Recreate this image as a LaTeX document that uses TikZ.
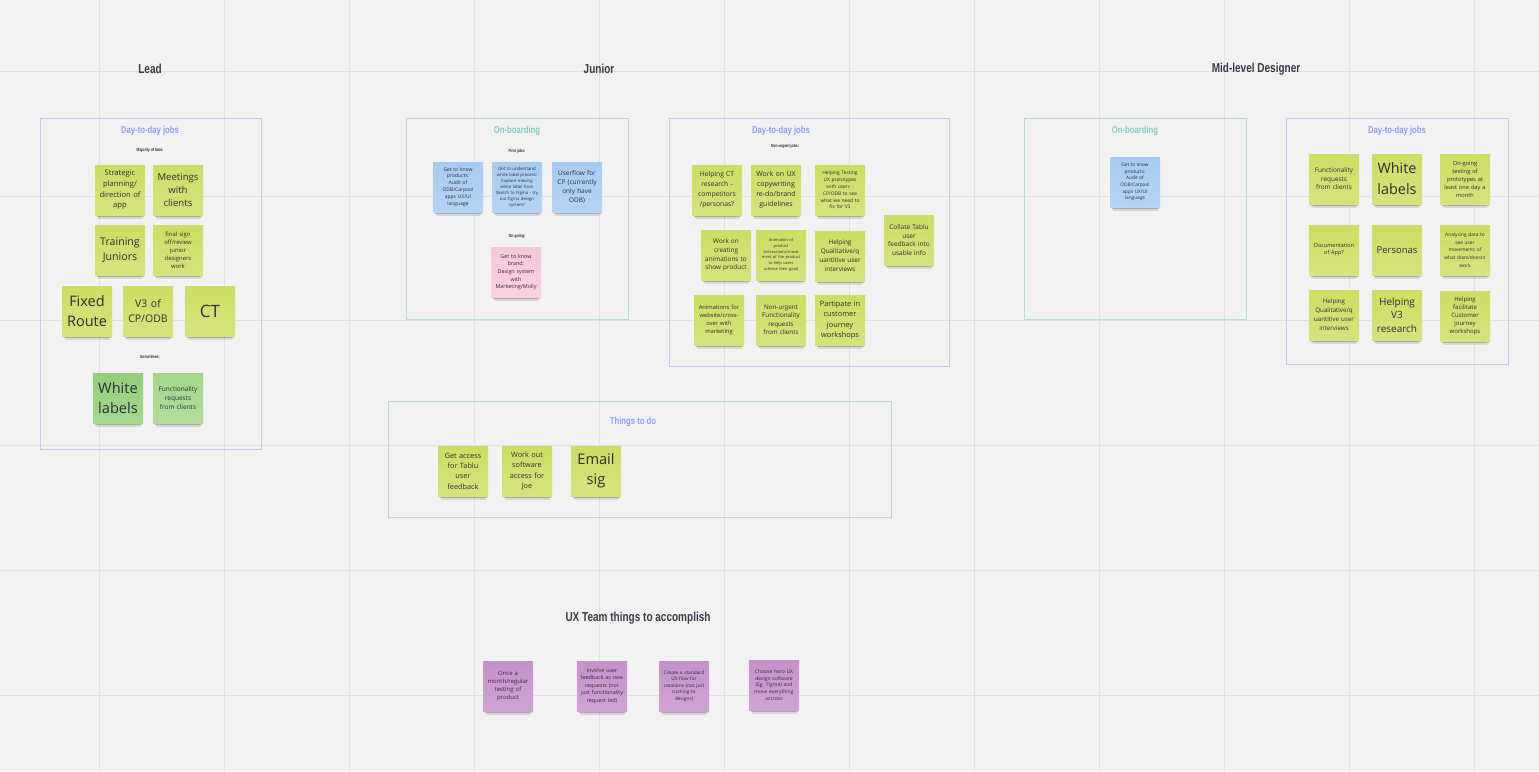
\documentclass[tikz,border=0pt]{standalone}
\usepackage{fontspec}
\setmainfont{Open Sans}
\newfontfamily\headfont[FakeStretch=0.77]{Liberation Sans}
\usetikzlibrary{shadows.blur}
\definecolor{bg}{HTML}{F2F2F2}
\definecolor{gridc}{HTML}{E1E1E1}
\definecolor{lav}{HTML}{C4CAF5}
\definecolor{lavt}{HTML}{8F9FF2}
\definecolor{tealf}{HTML}{B3DCD7}
\definecolor{tealt}{HTML}{80CEC1}
\definecolor{ylw}{HTML}{CDDD62}
\definecolor{grn}{HTML}{92CE78}
\definecolor{grnl}{HTML}{A2D688}
\definecolor{blu}{HTML}{A6CBF2}
\definecolor{pnk}{HTML}{F9C6DB}
\definecolor{prp}{HTML}{C590CB}
\definecolor{ink}{HTML}{2E2E38}
\definecolor{headc}{HTML}{3A3A48}
\newcommand\fs[2]{\fontsize{#1}{#2}\selectfont}
\tikzset{
 note/.style={top color=#1, bottom color=#1!82!white, minimum width=50pt, minimum height=50pt, text width=47pt,
   inner sep=0pt, align=center, text=ink,
   blur shadow={shadow xshift=0.5pt, shadow yshift=-6pt, shadow scale=0.86,
     shadow opacity=50, shadow blur radius=1.8pt, shadow blur steps=6}},
 frame/.style={draw=#1, line width=1pt},
 ftitle/.style={text=#1, font=\headfont\bfseries\fs{10}{10}},
 head/.style={text=headc, font=\headfont\bfseries\fs{13}{13}},
 tinylbl/.style={text=ink, font=\headfont\bfseries\fs{4.5}{4.5}},
}
\begin{document}
\begin{tikzpicture}[x=1pt,y=-1pt]
\fill[bg] (0,0) rectangle (1539,771);
\useasboundingbox (0,0) rectangle (1539,771);
% grid
\foreach \gx in {99,224,349,474,599,724,849,974,1099,1224,1349,1474}
  \draw[gridc, line width=1pt] (\gx,0) -- (\gx,771);
\foreach \gy in {71,196,320,445,570,695}
  \draw[gridc, line width=1pt] (0,\gy) -- (1539,\gy);

% headers
\node[head] (hLead) at (150,69) {Lead};
\node[head] (hJun) at (599,69) {Junior};
\node[head] (hMid) at (1256,69) {Mid-level Designer};
\node[head] (hUX) at (638,618) {UX Team things to accomplish};

% frames
\draw[frame=lav] (40,118) rectangle (261,449);
\node[ftitle=lavt] (tL) at (150,131) {Day-to-day jobs};
\draw[frame=tealf] (406,118) rectangle (628,319);
\node[ftitle=tealt] (tJO) at (517,131) {On-boarding};
\draw[frame=lav] (669,118) rectangle (949,366);
\node[ftitle=lavt] (tJD) at (781,131) {Day-to-day jobs};
\draw[frame=tealf] (388,401) rectangle (891,517);
\node[ftitle=lavt] (tT) at (633,422) {Things to do};
\draw[frame=tealf] (1024,118) rectangle (1246,319);
\node[ftitle=tealt] (tMO) at (1135,131) {On-boarding};
\draw[frame=lav] (1286,118) rectangle (1508,364);
\node[ftitle=lavt] (tMD) at (1397,131) {Day-to-day jobs};

% Lead
\node[tinylbl] (lm) at (150,150) {Majority of time:};
\node[note=ylw, font=\fs{7.6}{10.7}] (l1) at (120,190) {Strategic\\planning/\\direction of\\app};
\node[note=ylw, font=\fs{9.6}{13}] (l2) at (178,190) {Meetings\\with\\clients};
\node[note=ylw, font=\fs{10.6}{14.5}] (l3) at (120,250) {Training\\Juniors};
\node[note=ylw, font=\fs{5.9}{8}] (l4) at (178,250) {final sign\\off/review\\junior\\designers\\work};
\node[note=ylw, font=\fs{14.5}{20}] (l5) at (87,311) {Fixed\\Route};
\node[note=ylw, font=\fs{10.5}{14.3}] (l6) at (148,311) {V3 of\\CP/ODB};
\node[note=ylw, font=\fs{17}{20}] (l7) at (210,311) {CT};
\node[tinylbl] (ls) at (150,357) {Sometimes:};
\node[note=grn, font=\fs{14.6}{20.5}] (l8) at (118,398) {White\\labels};
\node[note=grnl, font=\fs{6.5}{9}] (l9) at (178,398) {Functionality\\requests\\from clients};

% Junior on-boarding
\node[tinylbl] (jf) at (517,151) {First jobs:};
\node[note=blu, font=\fs{5}{6.9}] (j1) at (458,187) {Get to know\\products:\\Audit of\\ODB/Carpool\\apps UX/UI\\language};
\node[note=blu, font=\fs{4.3}{6}] (j2) at (517,187) {Get to understand\\white label process:\\Explore moving\\white label from\\Sketch to Figma - try\\out figma design\\system?};
\node[note=blu, font=\fs{6.5}{9}] (j3) at (577,187) {Userflow for\\CP (currently\\only have\\ODB)};
\node[tinylbl] (jo) at (517,236) {On-going:};
\node[note=pnk, font=\fs{5.4}{7.6}] (j4) at (516,272) {Get to know\\brand:\\Design system\\with\\Marketing/Molly};

% Junior day-to-day
\node[tinylbl] (jn) at (785,146) {Non-urgent jobs:};
\node[note=ylw, font=\fs{6.7}{10}] (d1) at (717,190) {Helping CT\\research -\\competitors\\/personas?};
\node[note=ylw, font=\fs{7}{10}] (d2) at (776,190) {Work on UX\\copywriting\\re-do/brand\\guidelines};
\node[note=ylw, font=\fs{4.9}{6.8}] (d3) at (840,190) {Helping Testing\\UX prototypes\\with users -\\CP/ODB to see\\what we need to\\fix for V3};
\node[note=ylw, font=\fs{6.5}{8.7}] (d4) at (909,240) {Collate Tablu\\user\\feedback into\\usable info};
\node[note=ylw, font=\fs{6.4}{8.7}] (d5) at (726,255) {Work on\\creating\\animations to\\show product};
\node[note=ylw, font=\fs{4}{5.8}] (d6) at (781,255) {Animation of\\product\\(interactions/move\\ment of the product\\to help users\\achieve their goal)};
\node[note=ylw, font=\fs{6.4}{9}] (d7) at (840,256) {Helping\\Qualitative/q\\uantitive user\\interviews};
\node[note=ylw, font=\fs{5.8}{8}] (d8) at (719,320) {Animations for\\website/cross-\\over with\\marketing};
\node[note=ylw, font=\fs{6.3}{8.5}] (d9) at (781,320) {Non-urgent\\Functionality\\requests\\from clients};
\node[note=ylw, font=\fs{7.4}{10.5}] (d10) at (840,320) {Partipate in\\customer\\journey\\workshops};

% Things to do
\node[note=ylw, font=\fs{7.3}{10.3}] (t1) at (463,471) {Get access\\for Tablu\\user\\feedback};
\node[note=ylw, font=\fs{7.3}{10.3}] (t2) at (527,471) {Work out\\software\\access for\\Joe};
\node[note=ylw, font=\fs{14.6}{20}] (t3) at (596,471) {Email\\sig};

% Mid-level on-boarding
\node[note=blu, font=\fs{4.7}{6.7}] (m1) at (1135,182) {Get to know\\products:\\Audit of\\ODB/Carpool\\apps UX/UI\\language};

% Mid-level day-to-day
\node[note=ylw, font=\fs{6.4}{8.5}] (n1) at (1334,179) {Functionality\\requests\\from clients};
\node[note=ylw, font=\fs{14.4}{21}] (n2) at (1397,179) {White\\labels};
\node[note=ylw, font=\fs{5.7}{8}] (n3) at (1465,179) {On-going\\testing of\\prototypes at\\least one day a\\month};
\node[note=ylw, font=\fs{5.5}{7}] (n4) at (1334,250) {Documentation\\of App?};
\node[note=ylw, font=\fs{9.5}{12}] (n5) at (1397,250) {Personas};
\node[note=ylw, font=\fs{4.85}{7.8}] (n6) at (1465,250) {Analysing data to\\see user\\movements of\\what does/doesnt\\work};
\node[note=ylw, font=\fs{6.2}{9}] (n7) at (1334,315) {Helping\\Qualitative/q\\uantitive user\\interviews};
\node[note=ylw, font=\fs{10}{13.5}] (n8) at (1397,315) {Helping\\V3\\research};
\node[note=ylw, font=\fs{6}{8}] (n9) at (1465,316) {Helping\\facilitate\\Customer\\journey\\workshops};

% UX team
\node[note=prp, font=\fs{6}{8}] (u1) at (508,686) {Once a\\month/regular\\testing of\\product};
\node[note=prp, font=\fs{5.4}{7.5}] (u2) at (602,686) {Involve user\\feedback as new\\requests (not\\just functionality\\request led)};
\node[note=prp, font=\fs{4.8}{6.6}] (u3) at (684,686) {Create a standard\\UX flow for\\creations (not just\\rushing to\\designs)};
\node[note=prp, font=\fs{5}{6.7}] (u4) at (774,685) {Choose hero UX\\design software\\(Eg. Figma) and\\move everything\\accross};
\end{tikzpicture}
\end{document}
